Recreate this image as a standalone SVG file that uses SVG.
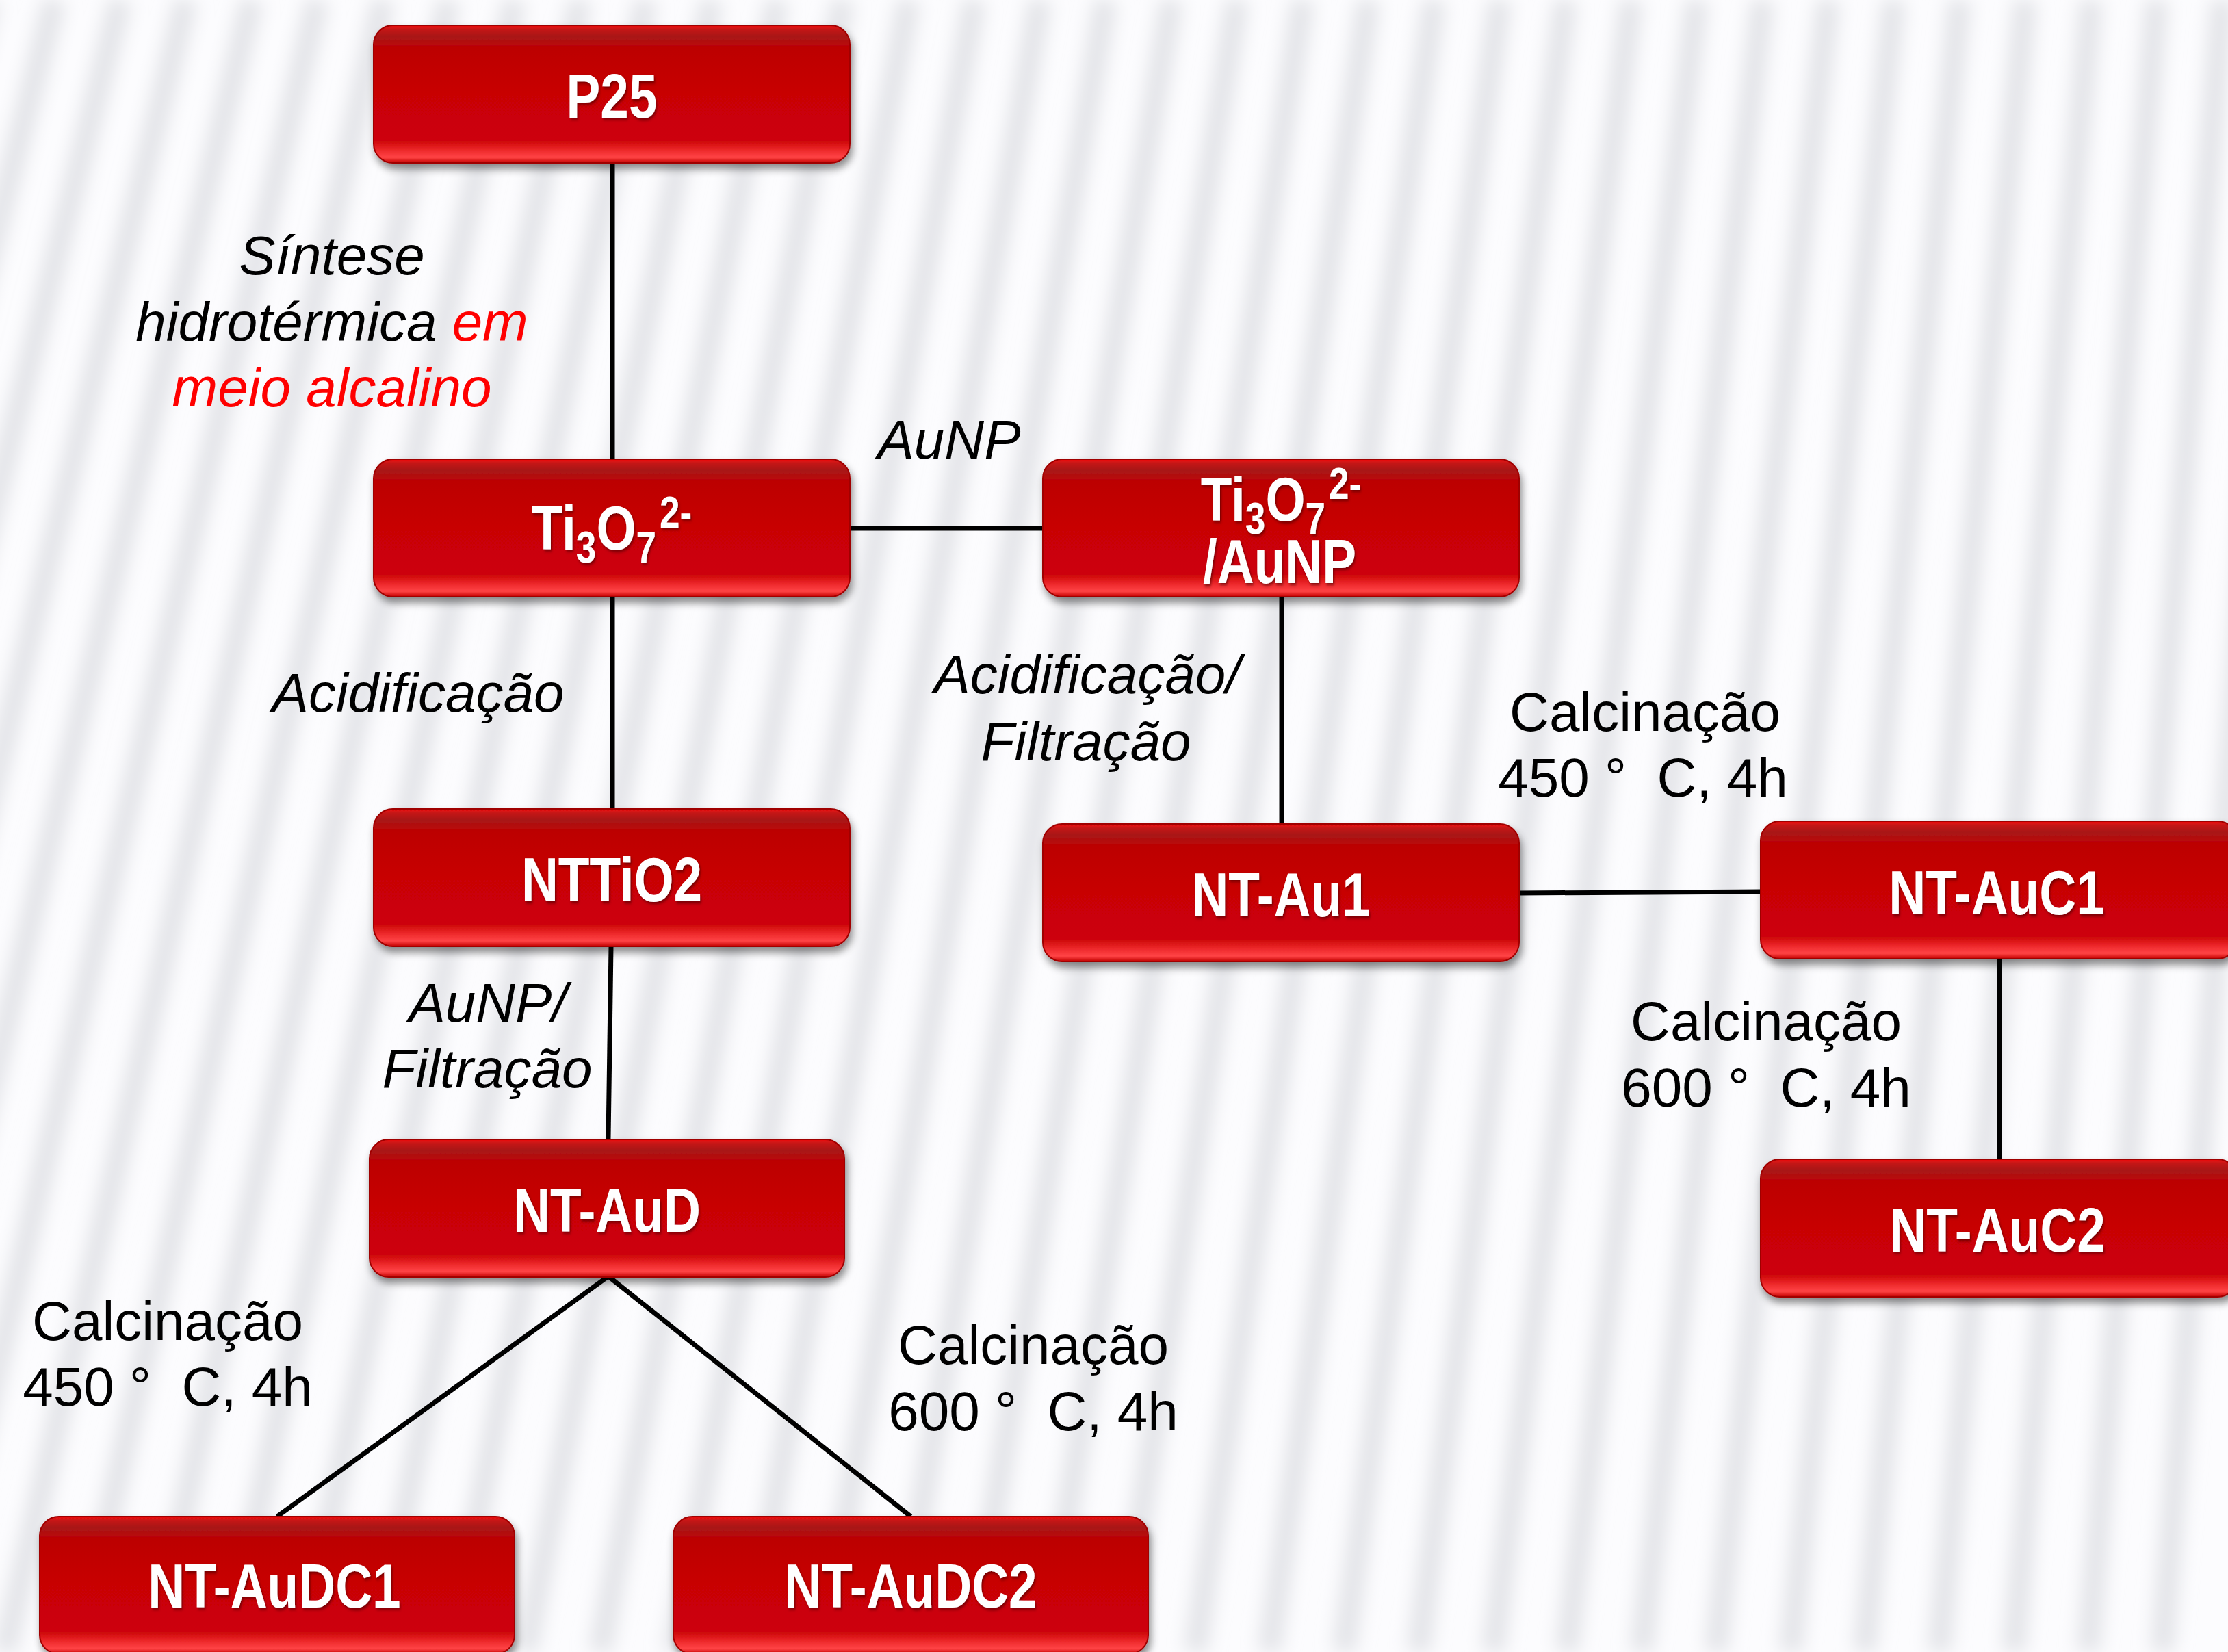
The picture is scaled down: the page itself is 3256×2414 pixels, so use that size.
<svg xmlns="http://www.w3.org/2000/svg" width="3256" height="2414" viewBox="0 0 3256 2414">
<defs>
<linearGradient id="boxFill" x1="0" y1="0" x2="0" y2="1">
<stop offset="0" stop-color="#f01010"/>
<stop offset="0.03" stop-color="#c41414"/>
<stop offset="0.08" stop-color="#a81818"/>
<stop offset="0.16" stop-color="#bc0204"/>
<stop offset="0.5" stop-color="#c80406"/>
<stop offset="0.84" stop-color="#cd0608"/>
<stop offset="0.91" stop-color="#ee2a2c"/>
<stop offset="0.96" stop-color="#ff4446"/>
<stop offset="1" stop-color="#c20000"/>
</linearGradient>
<filter id="shadow" x="-5%" y="-10%" width="110%" height="135%">
<feDropShadow dx="3" dy="8" stdDeviation="6" flood-color="#000" flood-opacity="0.45"/>
</filter>
<filter id="tshadow" x="-10%" y="-20%" width="120%" height="150%">
<feDropShadow dx="2" dy="3" stdDeviation="2" flood-color="#400000" flood-opacity="0.6"/>
</filter>
<filter id="blur" x="-10%" y="-10%" width="120%" height="120%">
<feGaussianBlur stdDeviation="13"/>
</filter>
</defs>
<style>
.box { fill: url(#boxFill); stroke: #a00000; stroke-width: 2; filter: url(#shadow); }
.nt { font-family: "Liberation Sans", Arial, sans-serif; font-weight: bold; font-size: 90px; fill: #ffffff; text-anchor: middle; filter: url(#tshadow); }
.lbl { font-family: "Liberation Sans", Arial, sans-serif; font-size: 80px; fill: #000000; text-anchor: middle; }
.it { font-style: italic; }
.red { fill: #ff0000; }
.conn line { stroke: #000000; stroke-width: 7; }
.stripes path { stroke: #e3e4e8; stroke-width: 34; fill: none; }
</style>

<rect x="0" y="0" width="3256" height="2414" fill="#fcfcfe"/>
<g class="stripes" filter="url(#blur)">
<path d="M-400 0L-1081 2414"/><path d="M-304 0L-972 2414"/><path d="M-208 0L-863 2414"/><path d="M-112 0L-754 2414"/>
<path d="M-16 0L-646 2414"/><path d="M80 0L-537 2414"/><path d="M176 0L-428 2414"/><path d="M272 0L-320 2414"/>
<path d="M368 0L-211 2414"/><path d="M464 0L-102 2414"/><path d="M560 0L7 2414"/><path d="M656 0L115 2414"/>
<path d="M752 0L224 2414"/><path d="M848 0L333 2414"/><path d="M944 0L442 2414"/><path d="M1040 0L550 2414"/>
<path d="M1136 0L659 2414"/><path d="M1232 0L768 2414"/><path d="M1328 0L877 2414"/><path d="M1424 0L985 2414"/>
<path d="M1520 0L1094 2414"/><path d="M1616 0L1203 2414"/><path d="M1712 0L1312 2414"/><path d="M1808 0L1420 2414"/>
<path d="M1904 0L1529 2414"/><path d="M2000 0L1638 2414"/><path d="M2096 0L1747 2414"/><path d="M2192 0L1855 2414"/>
<path d="M2288 0L1964 2414"/><path d="M2384 0L2073 2414"/><path d="M2480 0L2182 2414"/><path d="M2576 0L2290 2414"/>
<path d="M2672 0L2399 2414"/><path d="M2768 0L2508 2414"/><path d="M2864 0L2617 2414"/><path d="M2960 0L2725 2414"/>
<path d="M3056 0L2834 2414"/><path d="M3152 0L2943 2414"/><path d="M3248 0L3052 2414"/><path d="M3344 0L3160 2414"/>
</g>

<g id="connectors" class="conn">
<line x1="895" y1="239" x2="895" y2="671"/>
<line x1="1242" y1="772" x2="1524" y2="772"/>
<line x1="895" y1="872" x2="895" y2="1182"/>
<line x1="893" y1="1383" x2="889" y2="1665"/>
<line x1="1873" y1="872" x2="1873" y2="1204"/>
<line x1="2220" y1="1305" x2="2573" y2="1303"/>
<line x1="2922" y1="1402" x2="2922" y2="1694"/>
<line x1="889" y1="1865" x2="405" y2="2216"/>
<line x1="889" y1="1865" x2="1331" y2="2216"/>
</g>

<g id="labels">
<text class="lbl it" x="485" y="401">Síntese</text>
<text class="lbl it" x="485" y="498">hidrotérmica <tspan class="red">em</tspan></text>
<text class="lbl it red" x="485" y="594">meio alcalino</text>
<text class="lbl it" x="1387" y="670">AuNP</text>
<text class="lbl it" x="611" y="1040">Acidificação</text>
<text class="lbl it" x="1589" y="1013">Acidificação/</text>
<text class="lbl it" x="1587" y="1111">Filtração</text>
<text class="lbl" x="2404" y="1068">Calcinação</text>
<text class="lbl" x="2401" y="1164">450 °&#160; C, 4h</text>
<text class="lbl it" x="713" y="1493">AuNP/</text>
<text class="lbl it" x="712" y="1589">Filtração</text>
<text class="lbl" x="2581" y="1520">Calcinação</text>
<text class="lbl" x="2581" y="1617">600 °&#160; C, 4h</text>
<text class="lbl" x="245" y="1958">Calcinação</text>
<text class="lbl" x="245" y="2054">450 °&#160; C, 4h</text>
<text class="lbl" x="1510" y="1993">Calcinação</text>
<text class="lbl" x="1510" y="2090">600 °&#160; C, 4h</text>
</g>

<g id="node-p25">
<rect class="box" x="546" y="37" width="696" height="201" rx="28"/>
<text class="nt" transform="translate(894,172) scale(0.83,1)">P25</text>
</g>
<g id="node-ti3o7">
<rect class="box" x="546" y="671" width="696" height="201" rx="28"/>
<text class="nt" transform="translate(894,803) scale(0.83,1)">Ti<tspan font-size="64" dy="19">3</tspan><tspan dy="-19">O</tspan><tspan font-size="64" dy="19">7</tspan><tspan font-size="64" dx="6" dy="-51">2-</tspan></text>
</g>
<g id="node-ti3o7-aunp">
<rect class="box" x="1524" y="671" width="696" height="201" rx="28"/>
<text class="nt" transform="translate(1872,761) scale(0.83,1)">Ti<tspan font-size="64" dy="19">3</tspan><tspan dy="-19">O</tspan><tspan font-size="64" dy="19">7</tspan><tspan font-size="64" dx="6" dy="-51">2-</tspan></text>
<text class="nt" transform="translate(1870,852) scale(0.83,1)">/AuNP</text>
</g>
<g id="node-nttio2">
<rect class="box" x="546" y="1182" width="696" height="201" rx="28"/>
<text class="nt" transform="translate(894,1317) scale(0.83,1)">NTTiO2</text>
</g>
<g id="node-nt-au1">
<rect class="box" x="1524" y="1204" width="696" height="201" rx="28"/>
<text class="nt" transform="translate(1872,1339) scale(0.83,1)">NT-Au1</text>
</g>
<g id="node-nt-auc1">
<rect class="box" x="2573" y="1200" width="696" height="201" rx="28"/>
<text class="nt" transform="translate(2918,1336) scale(0.83,1)">NT-AuC1</text>
</g>
<g id="node-nt-auc2">
<rect class="box" x="2573" y="1694" width="696" height="201" rx="28"/>
<text class="nt" transform="translate(2919,1829) scale(0.83,1)">NT-AuC2</text>
</g>
<g id="node-nt-aud">
<rect class="box" x="540" y="1665" width="694" height="201" rx="28"/>
<text class="nt" transform="translate(887,1800) scale(0.83,1)">NT-AuD</text>
</g>
<g id="node-nt-audc1">
<rect class="box" x="58" y="2216" width="694" height="201" rx="28"/>
<text class="nt" transform="translate(401,2349) scale(0.83,1)">NT-AuDC1</text>
</g>
<g id="node-nt-audc2">
<rect class="box" x="984" y="2216" width="694" height="201" rx="28"/>
<text class="nt" transform="translate(1331,2349) scale(0.83,1)">NT-AuDC2</text>
</g>
</svg>
